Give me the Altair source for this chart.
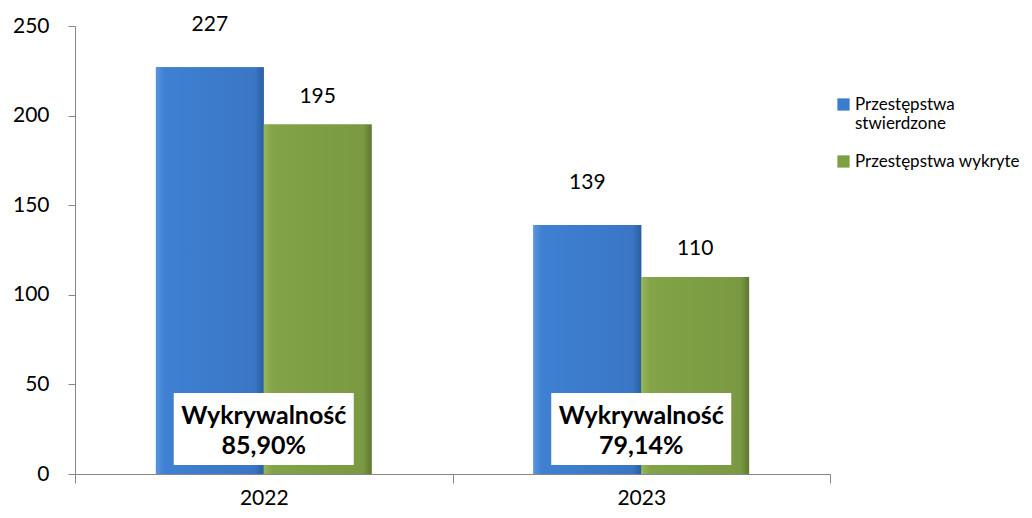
import altair as alt
import pandas as pd

years = ["2022", "2023"]
series = ["Przestępstwa stwierdzone", "Przestępstwa wykryte"]
stwierdzone = [227, 139]
wykryte = [195, 110]
rates = ["85,90%", "79,14%"]

rows = []
for i, y in enumerate(years):
    rows.append({"year": y, "series": series[0], "value": stwierdzone[i]})
    rows.append({"year": y, "series": series[1], "value": wykryte[i]})
df = pd.DataFrame(rows)
rate_df = pd.DataFrame({"year": years, "rate": rates})

FONT = "Lato"
W, H = 755, 448

x = alt.X("year:N", title=None,
          scale=alt.Scale(paddingInner=0, paddingOuter=0),
          axis=alt.Axis(labelAngle=0, labelFontSize=21, labelFont=FONT, labelColor="#000",
                        tickBand="extent", tickSize=9, labelPadding=4,
                        domainColor="#868686", tickColor="#868686"))
xo = alt.XOffset("series:N", sort=series, scale=alt.Scale(paddingOuter=0.75, paddingInner=0))
y = alt.Y("value:Q", title=None,
          scale=alt.Scale(domain=[0, 250], nice=False),
          axis=alt.Axis(values=[0, 50, 100, 150, 200, 250], grid=False, labelFontSize=21,
                        labelFont=FONT, labelColor="#000", tickSize=7, labelPadding=19,
                        domainColor="#868686", tickColor="#868686"))

base = alt.Chart(df).encode(x=x, xOffset=xo, y=y)

bars = base.mark_bar(stroke=None).encode(
    color=alt.Color("series:N", sort=series,
                    scale=alt.Scale(domain=series, range=["#3C7CCC", "#7E9E44"]),
                    legend=alt.Legend(title=None, orient="none", legendX=760, legendY=70,
                                      labelFont=FONT, labelFontSize=17, labelColor="#000",
                                      symbolType="square", symbolSize=150, symbolStrokeWidth=0,
                                      rowPadding=20, labelOffset=3, labelLimit=300,
                                      labelExpr="datum.label == 'Przestępstwa stwierdzone' ? ['Przestępstwa','stwierdzone'] : datum.label"))
)

blue_grad = alt.Gradient(gradient="linear", x1=0, x2=1, y1=0, y2=0, stops=[
    alt.GradientStop(color="#5A95DD", offset=0),
    alt.GradientStop(color="#3F80D2", offset=0.08),
    alt.GradientStop(color="#3C7BCC", offset=0.5),
    alt.GradientStop(color="#3A76C4", offset=0.92),
    alt.GradientStop(color="#2A5E9E", offset=1)])
green_grad = alt.Gradient(gradient="linear", x1=0, x2=1, y1=0, y2=0, stops=[
    alt.GradientStop(color="#97B65C", offset=0),
    alt.GradientStop(color="#82A348", offset=0.08),
    alt.GradientStop(color="#7E9E44", offset=0.5),
    alt.GradientStop(color="#7A9942", offset=0.92),
    alt.GradientStop(color="#5E7A30", offset=1)])

blue_bars = base.transform_filter(alt.datum.series == series[0]).mark_bar(color=blue_grad)
green_bars = base.transform_filter(alt.datum.series == series[1]).mark_bar(color=green_grad)

lab_blue = base.transform_filter(alt.datum.series == series[0]).mark_text(
    dy=-42, fontSize=21, font=FONT, color="#000").encode(text="value:Q")
lab_green = base.transform_filter(alt.datum.series == series[1]).mark_text(
    dy=-28, fontSize=21, font=FONT, color="#000").encode(text="value:Q")

rbase = alt.Chart(rate_df).encode(x=alt.X("year:N", scale=alt.Scale(paddingInner=0, paddingOuter=0)))
boxes = rbase.mark_bar(width=180, color="white").encode(y=alt.value(367), y2=alt.value(439))
rtext = rbase.transform_calculate(t="'Wykrywalność\\n' + datum.rate").mark_text(
    lineBreak="\n", lineHeight=30, fontSize=25, fontWeight="bold", font=FONT, color="#000",
    baseline="middle").encode(y=alt.value(390), text="t:N")

chart = alt.layer(bars, blue_bars, green_bars, lab_blue, lab_green, boxes, rtext).properties(
    width=W, height=H,
    autosize=alt.AutoSizeParams(type="none"),
    padding={"left": 67, "top": 18, "right": 194, "bottom": 36},
).configure_view(stroke=None)

chart.save("out.html", embed_options={"renderer": "svg", "actions": False})
